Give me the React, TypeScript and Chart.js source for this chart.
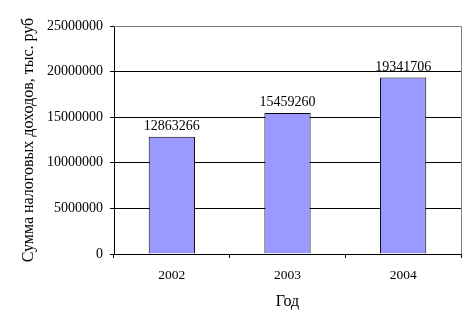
import React, { useEffect, useRef } from "react";
import { Chart, registerables } from "chart.js";

Chart.register(...registerables);

const categories = ["2002", "2003", "2004"];
const values = [12863266, 15459260, 19341706];
const yTicks = [0, 5000000, 10000000, 15000000, 20000000, 25000000];
const yTitle = "Сумма налоговых доходов, тыс. руб";
const xTitle = "Год";

const SERIF = "'Liberation Serif', 'Times New Roman', serif";

const framePlugin = {
  id: "frameAndLabels",
  afterDatasetsDraw(chart: any) {
    const { ctx, chartArea } = chart;
    ctx.save();
    ctx.strokeStyle = "#808080";
    ctx.lineWidth = 1;
    ctx.beginPath();
    const top = Math.round(chartArea.top) + 0.5;
    const right = Math.round(chartArea.right) + 0.5;
    ctx.moveTo(Math.round(chartArea.left), top);
    ctx.lineTo(right, top);
    ctx.lineTo(right, Math.round(chartArea.bottom) + 0.5);
    ctx.stroke();

    const meta = chart.getDatasetMeta(0);
    ctx.fillStyle = "#000";
    ctx.font = `14px ${SERIF}`;
    ctx.textAlign = "center";
    ctx.textBaseline = "alphabetic";
    meta.data.forEach((bar: any, i: number) => {
      ctx.fillText(String(values[i]), bar.x, bar.y - 7);
    });
    ctx.restore();
  },
};

export default function App() {
  const ref = useRef<HTMLCanvasElement>(null);
  useEffect(() => {
    if (!ref.current) return;
    Chart.defaults.color = "#000";
    const chart = new Chart(ref.current, {
      type: "bar",
      data: {
        labels: categories,
        datasets: [
          {
            data: values,
            backgroundColor: "#9999FF",
            borderColor: "#000",
            borderWidth: 1,
            categoryPercentage: 1,
            barPercentage: 0.4,
          },
        ],
      },
      options: {
        animation: false,
        responsive: false,
        maintainAspectRatio: false,
        layout: { padding: { left: 0, top: 26, right: 14, bottom: 0 } },
        plugins: { legend: { display: false }, tooltip: { enabled: false } },
        scales: {
          x: {
            afterFit: (s: any) => {
              s.height = 76;
            },
            grid: {
              offset: true,
              drawOnChartArea: false,
              drawTicks: true,
              tickLength: 4,
              tickColor: "#000",
              color: "#000",
            },
            border: { display: true, color: "#000" },
            ticks: { padding: 9, color: "#000", font: { family: SERIF, size: 13.5 } },
            title: {
              display: true,
              text: xTitle,
              color: "#000",
              font: { family: SERIF, size: 16 },
              padding: { top: 4, bottom: 19 },
            },
          },
          y: {
            min: 0,
            max: 25000000,
            afterFit: (s: any) => {
              s.width = 114;
            },
            afterBuildTicks: (s: any) => {
              s.ticks = yTicks.map((v) => ({ value: v }));
            },
            grid: {
              color: (c: any) => (c.tick && c.tick.value === 25000000 ? "#808080" : "#000"),
              tickColor: "#000",
              tickLength: 4,
              drawTicks: true,
            },
            border: { display: true, color: "#000" },
            ticks: {
              padding: 7,
              color: "#000",
              font: { family: SERIF, size: 14 },
              callback: (v: any) => String(v),
            },
            title: {
              display: true,
              text: yTitle,
              color: "#000",
              font: { family: SERIF, size: 16 },
              padding: { top: 19, bottom: 4 },
            },
          },
        },
      },
      plugins: [framePlugin],
    });
    return () => chart.destroy();
  }, []);
  return (
    <div style={{ position: "absolute", left: 0, top: 0, width: 475, height: 330, background: "#fff" }}>
      <canvas ref={ref} width={475} height={330} />
    </div>
  );
}
